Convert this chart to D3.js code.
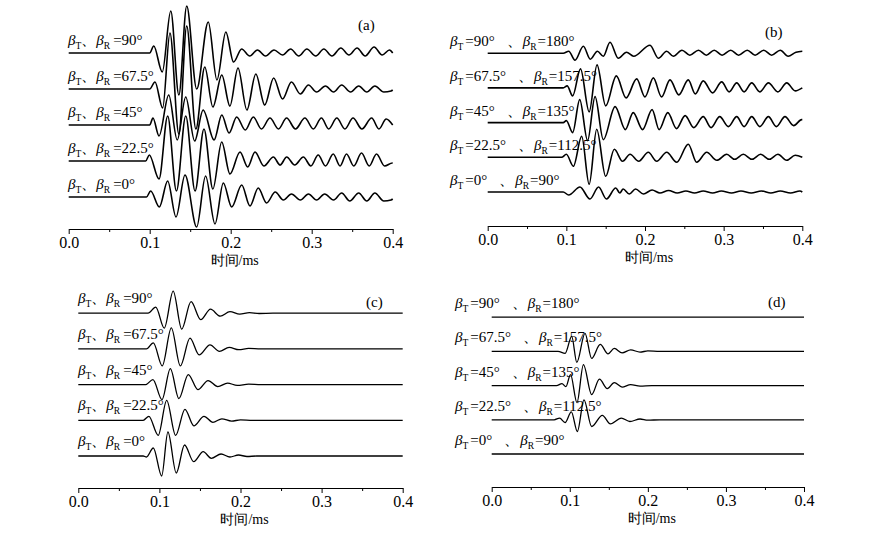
<!DOCTYPE html>
<html>
<head>
<meta charset="utf-8">
<script src="https://cdn.jsdelivr.net/npm/d3@7"></script>
<style>
  body { margin: 0; background: #fff; }
  svg text { font-family: "Liberation Serif", "Times New Roman", serif; fill: #000; }
</style>
</head>
<body>
<svg id="chart" width="872" height="536"></svg>
<script>
// waveform extrema: [time ms, amplitude a.u.]
// panel (a)
var a0 = [[0,0],[0.096,0],[0.1012,6],[0.1119,-10],[0.1222,16],[0.1325,-20],[0.1436,22],[0.158,-30],[0.169,21],[0.1806,-27],[0.1909,14],[0.2012,-10],[0.2136,12],[0.2238,-9],[0.234,9],[0.2443,-6],[0.255,5],[0.265,-3],[0.275,3],[0.286,-3],[0.296,3],[0.306,-3],[0.316,3],[0.327,-3],[0.337,4],[0.347,-4],[0.358,4],[0.368,-4],[0.378,4],[0.389,-4],[0.398,-3],[0.4,-2]];
var a22 = [[0,0],[0.095,0],[0.0995,6],[0.1115,-18],[0.1222,45],[0.133,-30],[0.1445,45],[0.156,-30],[0.167,32],[0.178,-28],[0.1889,19],[0.1991,-13],[0.2115,9],[0.221,-6],[0.23,9],[0.241,-5],[0.2527,4],[0.261,-4],[0.2691,4],[0.279,-4],[0.2897,4],[0.299,-5],[0.308,6],[0.317,-5],[0.3266,7],[0.335,-5],[0.343,7],[0.352,-5],[0.3615,8],[0.371,-5],[0.38,7],[0.39,-5],[0.3996,-2],[0.4,-2]];
var a45 = [[0,0],[0.1,0],[0.104,7],[0.1115,-11],[0.1235,30],[0.134,-15],[0.1445,28],[0.1555,-16],[0.166,15],[0.1795,-15],[0.189,10],[0.198,-8],[0.2074,8],[0.218,-5],[0.2279,8],[0.238,-4],[0.2485,7],[0.259,-4],[0.269,7],[0.28,-4],[0.2916,7],[0.302,-4],[0.312,7],[0.321,-4],[0.331,7],[0.341,-4],[0.351,7],[0.362,-4],[0.374,7],[0.383,-4],[0.392,6],[0.4,0]];
var a67 = [[0,0],[0.1,0],[0.1065,7],[0.116,-19],[0.125,56],[0.136,-45],[0.1457,63],[0.157,-40],[0.168,22],[0.178,-18],[0.189,14],[0.199,-17],[0.209,21],[0.22,-21],[0.231,15],[0.242,-16],[0.253,11],[0.264,-10],[0.275,7],[0.286,-5],[0.296,4],[0.306,-3],[0.317,3],[0.327,-3],[0.337,4],[0.348,-3],[0.358,3],[0.368,-3],[0.378,3],[0.389,-3],[0.398,-2],[0.4,-1]];
var a90 = [[0,0],[0.1,0],[0.105,7],[0.1155,-19],[0.126,42],[0.136,-42],[0.1457,47],[0.158,-36],[0.1723,31],[0.183,-27],[0.194,21],[0.2035,-9],[0.2135,4],[0.2235,-3],[0.233,3],[0.243,-3],[0.2535,3],[0.264,-2],[0.274,4],[0.284,-3],[0.294,4],[0.305,-3],[0.315,4],[0.325,-3],[0.336,5],[0.346,-2],[0.356,5],[0.366,-3],[0.377,6],[0.387,-2],[0.396,3],[0.4,0]];
// panel (b)
var b0 = [[0,0],[0.096,0],[0.103,-3],[0.1173,5],[0.13,-7],[0.141,5],[0.151,-7],[0.1628,4],[0.168,-1],[0.1722,3],[0.18,-2],[0.188,3],[0.198,-2],[0.209,2],[0.219,-1],[0.23,1.5],[0.241,-1],[0.252,1],[0.263,-1],[0.274,1],[0.286,-1],[0.297,1],[0.31,-1],[0.322,1],[0.335,-1],[0.348,1],[0.36,-1],[0.372,1],[0.385,-1],[0.397,1],[0.4,0]];
var b22 = [[0,0],[0.094,0],[0.1,3],[0.1089,-9],[0.1195,21],[0.129,-27],[0.1386,28],[0.15,-19],[0.161,8],[0.1715,-4],[0.181,3],[0.192,-4],[0.2042,5],[0.2149,-4],[0.2276,5],[0.2403,-5],[0.255,13],[0.2657,-5],[0.2785,5],[0.2912,-3],[0.3039,3],[0.314,-2],[0.325,3],[0.336,-2],[0.347,3],[0.358,-2],[0.369,3],[0.38,-3],[0.391,2],[0.4,0]];
var b45 = [[0,0],[0.096,0],[0.1,2],[0.108,-10],[0.117,23],[0.127,-18],[0.1365,26],[0.147,-17],[0.162,16],[0.175,-7],[0.185,10],[0.197,-7],[0.209,13],[0.218,-7],[0.229,10],[0.24,-6],[0.251,7],[0.262,-5],[0.274,6],[0.284,-5],[0.295,6],[0.306,-4],[0.3166,6],[0.326,-4],[0.3357,6],[0.346,-4],[0.3569,6],[0.367,-4],[0.378,6],[0.389,-3],[0.3992,3],[0.4,3]];
var b67 = [[0,0],[0.096,0],[0.101,2],[0.108,-8],[0.118,19],[0.129,-24],[0.139,23],[0.15,-18],[0.1635,12],[0.176,-10],[0.1894,9],[0.2,-9],[0.2106,10],[0.221,-9],[0.2318,8],[0.243,-7],[0.255,8],[0.264,-6],[0.274,7],[0.286,-5],[0.2975,6],[0.307,-4],[0.3166,5],[0.326,-4],[0.3357,5],[0.346,-4],[0.3569,5],[0.369,-4],[0.3802,5],[0.391,-3],[0.4,0]];
var b90 = [[0,0],[0.096,0],[0.103,2],[0.111,-7],[0.1216,7],[0.1305,-6],[0.1395,2],[0.147,-3],[0.1555,11],[0.166,-5],[0.1765,1],[0.1855,-3],[0.2064,8],[0.217,-5],[0.2275,2],[0.236,-3],[0.247,3],[0.257,-2],[0.268,3],[0.278,-2],[0.288,3],[0.298,-2],[0.309,3],[0.319,-2],[0.33,3],[0.34,-2],[0.351,3],[0.361,-2],[0.372,3],[0.382,-3],[0.392,1],[0.4,2]];
// panel (c)
var c0 = [[0,0],[0.08,0],[0.084,-1],[0.0925,8],[0.1028,-20],[0.1105,24],[0.1208,-17],[0.131,11],[0.1423,-5.7],[0.154,4.3],[0.164,-2.3],[0.176,2],[0.187,-1],[0.1976,1],[0.208,-0.5],[0.22,0],[0.4,0]];
var c22 = [[0,0],[0.08,0],[0.087,4],[0.0985,-15],[0.109,20],[0.12,-15],[0.1315,11],[0.1425,-5.5],[0.155,4],[0.166,-2],[0.177,1.5],[0.189,-0.8],[0.2,0.4],[0.215,0],[0.4,0]];
var c45 = [[0,0],[0.083,0],[0.092,5],[0.1032,-15],[0.1135,16],[0.124,-14],[0.1356,10],[0.1475,-5],[0.16,4],[0.172,-2],[0.184,1.5],[0.196,-0.8],[0.21,0.4],[0.225,0],[0.4,0]];
var c67 = [[0,0],[0.084,0],[0.0925,6],[0.1035,-17],[0.1147,21],[0.1258,-17],[0.1377,10.7],[0.149,-6],[0.1624,4],[0.174,-2.5],[0.186,1.5],[0.198,-0.8],[0.21,0.5],[0.225,0],[0.4,0]];
var c90 = [[0,0],[0.086,0],[0.0955,6],[0.106,-15],[0.117,22],[0.1275,-16],[0.139,11.5],[0.151,-6.5],[0.163,4],[0.175,-3],[0.187,1.5],[0.199,-1],[0.211,0.6],[0.223,-0.3],[0.24,0],[0.4,0]];
// panel (d)
var d0 = [[0,0],[0.4,0]];
var d22 = [[0,0],[0.08,0],[0.087,1.7],[0.094,-2.7],[0.102,8],[0.1097,-11.7],[0.1182,20],[0.128,-6.7],[0.1417,4.5],[0.152,-4],[0.166,1.7],[0.177,-1.7],[0.19,0.8],[0.2,-0.4],[0.215,0],[0.4,0]];
var d45 = [[0,0],[0.083,0],[0.09,2],[0.095,-1],[0.101,11],[0.1092,-17],[0.1175,21],[0.128,-9],[0.138,6.5],[0.148,-3],[0.157,3],[0.167,-1.5],[0.178,1],[0.19,-0.5],[0.205,0],[0.4,0]];
var d67 = [[0,0],[0.085,0],[0.094,-2],[0.1025,15],[0.109,-11],[0.1195,18],[0.128,-7],[0.139,7],[0.149,-2.5],[0.157,3],[0.167,-1.5],[0.178,1.5],[0.19,-0.7],[0.2,0.5],[0.215,0],[0.4,0]];
var d90 = [[0,0],[0.4,0]];

var betaT = ["0", "22.5", "45", "67.5", "90"];
var betaR = ["90", "112.5", "135", "157.5", "180"];
var timeTicks = [0, 0.1, 0.2, 0.3, 0.4];
var minorTicks = [0.05, 0.15, 0.25, 0.35];
var panelTags = ["(a)", "(b)", "(c)", "(d)"];
var axisTitle = "时间/ms";

var panels = [
  {traces: [a0, a22, a45, a67, a90], x0: 68.7, x1: 392.7, axisY: 229, base0: 197, step: 36, labX: 68, labDy: -8, both: false, tagX: 358, tagY: 30, lw: 1.6},
  {traces: [b0, b22, b45, b67, b90], x0: 487.7, x1: 802.3, axisY: 226, base0: 192, step: 34.7, labX: 450, labDy: -7, both: true, tagX: 765, tagY: 37, lw: 1.6},
  {traces: [c0, c22, c45, c67, c90], x0: 78.3, x1: 402.7, axisY: 488, base0: 456, step: 35.7, labX: 78, labDy: -10, both: false, tagX: 366, tagY: 307, lw: 1.3},
  {traces: [d0, d22, d45, d67, d90], x0: 491.7, x1: 804, axisY: 487, base0: 454, step: 34.2, labX: 455, labDy: -9, both: true, tagX: 768, tagY: 307, lw: 1.3}
];

var svg = d3.select("#chart");

panels.forEach(function(p, pi) {
  var g = svg.append("g");
  var x = d3.scaleLinear().domain([0, 0.4]).range([p.x0, p.x1]);
  // amplitude a.u., each trace shifted by one step
  var y = d3.scaleLinear().domain([0, p.step]).range([p.base0, p.base0 - p.step]);

  // axis with major + minor ticks
  g.append("g")
    .attr("transform", "translate(0," + p.axisY + ")")
    .call(d3.axisBottom(x).tickValues(timeTicks).tickFormat(d3.format(".1f")).tickSize(5).tickSizeOuter(0).tickPadding(3))
    .call(function(a) {
      a.select(".domain").attr("stroke", "#000").attr("stroke-width", 1);
      a.selectAll(".tick line").attr("stroke", "#000");
      a.selectAll(".tick text").style("font-size", "16px").attr("fill", "#000");
    });
  g.append("g")
    .attr("transform", "translate(0," + p.axisY + ")")
    .call(d3.axisBottom(x).tickValues(minorTicks).tickFormat("").tickSize(3).tickSizeOuter(0))
    .call(function(a) {
      a.select(".domain").remove();
      a.selectAll(".tick line").attr("stroke", "#000");
    });

  g.append("text")
    .attr("x", (p.x0 + p.x1) / 2 + 4)
    .attr("y", p.axisY + 36)
    .attr("text-anchor", "middle")
    .style("font-size", "14px")
    .text(axisTitle);

  g.append("text")
    .attr("x", p.tagX)
    .attr("y", p.tagY)
    .style("font-size", "15px")
    .text(panelTags[pi]);

  var line = d3.line()
    .x(function(d) { return x(d[0]); })
    .curve(d3.curveMonotoneX);

  p.traces.forEach(function(tr, i) {
    line.y(function(d) { return y(i * p.step + d[1]); });
    g.append("path")
      .attr("d", line(tr))
      .attr("fill", "none")
      .attr("stroke", "#000")
      .attr("stroke-width", p.lw)
      .attr("stroke-linejoin", "round");

    var t = g.append("text")
      .attr("x", p.labX)
      .attr("y", y(i * p.step) + p.labDy)
      .style("font-size", "15px");
    t.append("tspan").style("font-style", "italic").text("β");
    t.append("tspan").attr("dy", 4).style("font-size", "9.5px").text("T");
    if (p.both) {
      t.append("tspan").attr("dy", -4).attr("dx", 2).text("=" + betaT[i] + "°");
      t.append("tspan").attr("dx", 12).text("、");
      t.append("tspan").attr("dx", 1).style("font-style", "italic").text("β");
      t.append("tspan").attr("dy", 4).style("font-size", "9.5px").text("R");
      t.append("tspan").attr("dy", -4).attr("dx", 1).text("=" + betaR[i] + "°");
    } else {
      t.append("tspan").attr("dy", -4).text("、");
      t.append("tspan").attr("dx", 0).style("font-style", "italic").text("β");
      t.append("tspan").attr("dy", 4).style("font-size", "9.5px").text("R");
      t.append("tspan").attr("dy", -4).attr("dx", 3).text("=" + betaT[i] + "°");
    }
  });
});
</script>
</body>
</html>
